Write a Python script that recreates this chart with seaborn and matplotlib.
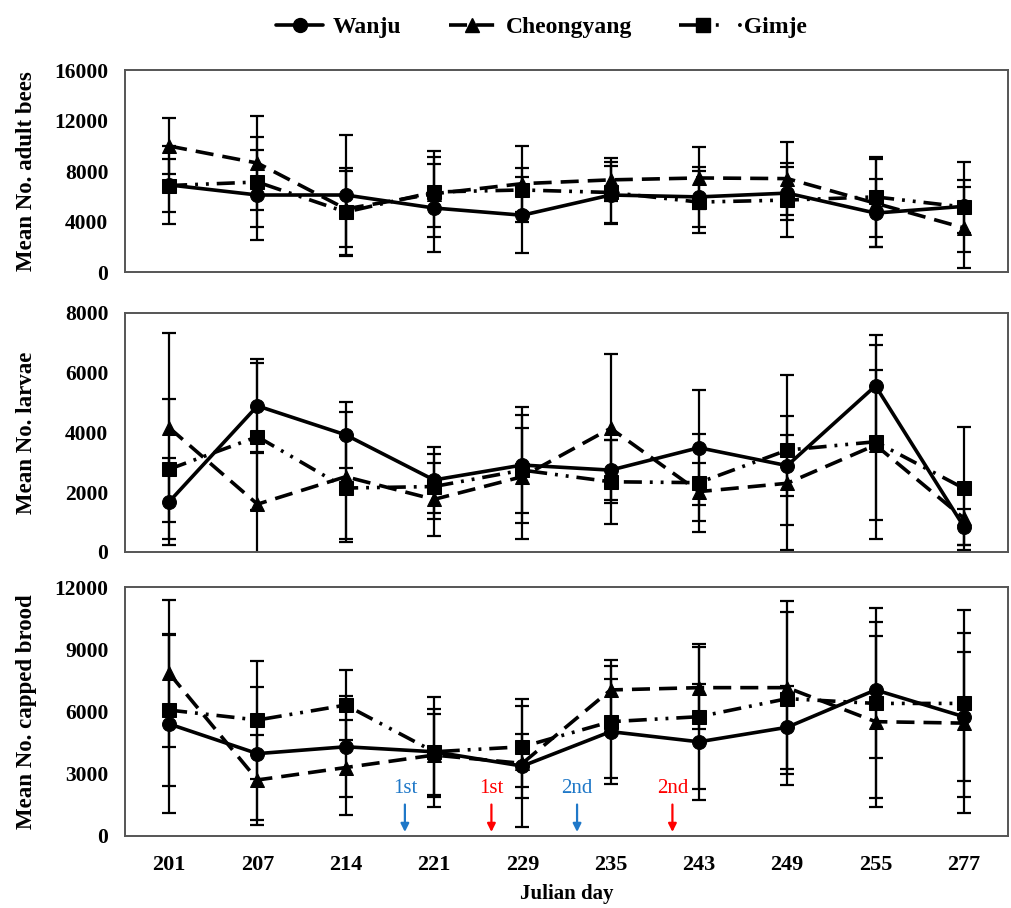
import matplotlib
matplotlib.use('Agg')
import matplotlib.pyplot as plt
import numpy as np
import pandas as pd
import seaborn as sns
from matplotlib.lines import Line2D

days = ['201', '207', '214', '221', '229', '235', '243', '249', '255', '277']
sites = ['Wanju', 'Cheongyang', 'Gimje']

# adult bees
adult_wanju = [6900, 6100, 6100, 5070, 4500, 6100, 5950, 6250, 4670, 5200]
adult_cheong = [9980, 8630, 5000, 6200, 7000, 7300, 7450, 7400, 5450, 3500]
adult_gimje = [6850, 7130, 4750, 6340, 6500, 6300, 5540, 5700, 5950, 5150]
adult_wanju_sd = [3100, 3600, 4750, 3500, 3000, 2300, 2400, 2100, 2700, 2100]
adult_cheong_sd = [2200, 3700, 3000, 3400, 3000, 1700, 2450, 2900, 3500, 3200]
adult_gimje_sd = [2100, 3570, 3500, 2800, 1750, 2400, 2450, 2900, 3150, 3550]

# larvae
larvae_wanju = [1680, 4890, 3920, 2410, 2910, 2740, 3490, 2890, 5560, 850]
larvae_cheong = [4160, 1600, 2520, 1760, 2520, 4140, 2020, 2300, 3580, 1130]
larvae_gimje = [2770, 3860, 2140, 2190, 2740, 2350, 2320, 3410, 3690, 2130]
larvae_wanju_sd = [1450, 1560, 1100, 1120, 1950, 1000, 1930, 1030, 1700, 600]
larvae_cheong_sd = [3170, 1700, 2180, 1230, 2080, 2500, 970, 2250, 2510, 900]
larvae_gimje_sd = [2350, 2460, 1700, 1100, 1420, 1400, 1640, 2510, 3240, 2060]

# capped brood
brood_wanju = [5400, 3970, 4300, 4060, 3370, 5030, 4540, 5240, 7040, 5750]
brood_cheong = [7840, 2700, 3300, 3900, 3500, 7040, 7150, 7150, 5510, 5440]
brood_gimje = [6070, 5590, 6310, 4060, 4300, 5510, 5750, 6620, 6390, 6390]
brood_wanju_sd = [4280, 3200, 2440, 2060, 1530, 2520, 2800, 2000, 3270, 3100]
brood_cheong_sd = [3530, 2170, 2290, 2000, 3080, 1460, 1970, 4160, 4130, 4350]
brood_gimje_sd = [3660, 2860, 1690, 2650, 1960, 2700, 3500, 4170, 4580, 4500]

# treatment arrows on the capped brood panel
event_pos = [2.67, 3.65, 4.62, 5.7]
event_labels = ['1st', '1st', '2nd', '2nd']
event_colors = ['#1f78c8', '#ff0000', '#1f78c8', '#ff0000']

sns.set_style('white')
plt.rcParams['font.family'] = ['Liberation Serif', 'DejaVu Serif']
plt.rcParams['font.weight'] = 'bold'
plt.rcParams['text.color'] = 'black'
plt.rcParams['axes.labelcolor'] = 'black'
plt.rcParams['xtick.color'] = 'black'
plt.rcParams['ytick.color'] = 'black'

markers = {'Wanju': 'o', 'Cheongyang': '^', 'Gimje': 's'}
dashes = {'Wanju': '', 'Cheongyang': (5, 2.5), 'Gimje': (5, 2.2, 0.8, 2.2, 0.8, 2.2)}
msize = {'Wanju': 10, 'Cheongyang': 10, 'Gimje': 9.5}

panels = [
    ('Mean No. adult bees', [adult_wanju, adult_cheong, adult_gimje],
     [adult_wanju_sd, adult_cheong_sd, adult_gimje_sd], 16000, 4000),
    ('Mean No. larvae', [larvae_wanju, larvae_cheong, larvae_gimje],
     [larvae_wanju_sd, larvae_cheong_sd, larvae_gimje_sd], 8000, 2000),
    ('Mean No. capped brood', [brood_wanju, brood_cheong, brood_gimje],
     [brood_wanju_sd, brood_cheong_sd, brood_gimje_sd], 12000, 3000),
]

fig = plt.figure(figsize=(10.12, 9.08), dpi=100)
boxes = [(0.1235, 0.7004, 0.8725, 0.2225),
         (0.1235, 0.3921, 0.8725, 0.2632),
         (0.1235, 0.0793, 0.8725, 0.2742)]

pos = np.arange(len(days))
for (ylabel, means, sds, ymax, step), box in zip(panels, boxes):
    ax = fig.add_axes(box)
    for site, m, s in zip(sites, means, sds):
        df = pd.DataFrame({'pos': pos, 'val': m})
        ax.errorbar(pos, m, yerr=s, fmt='none', ecolor='black',
                    elinewidth=1.6, capsize=5, capthick=1.6, zorder=2)
        sns.lineplot(data=df, x='pos', y='val', ax=ax, color='black',
                     marker=markers[site], markersize=msize[site],
                     markeredgecolor='black', linewidth=2.6,
                     dashes=False, zorder=3)
        if dashes[site]:
            ax.lines[-1].set_dashes(dashes[site])
    ax.set_xlim(-0.5, len(days) - 0.5)
    ax.set_ylim(0, ymax)
    ax.set_yticks(np.arange(0, ymax + 1, step))
    ax.set_yticklabels([str(v) for v in np.arange(0, ymax + 1, step)],
                       fontsize=15.5, fontweight='bold')
    ax.set_xticks(pos)
    ax.set_xlabel('')
    ax.set_ylabel(ylabel, fontsize=16.5, fontweight='bold')
    ax.tick_params(axis='y', length=0, pad=12)
    ax.tick_params(axis='x', length=0, pad=14)
    for sp in ax.spines.values():
        sp.set_color('#555555')
        sp.set_linewidth(1.4)
    if ymax == 12000:
        ax.set_xticklabels(days, fontsize=16, fontweight='bold')
        ax.set_xlabel('Julian day', fontsize=15, fontweight='bold', labelpad=6)
        for xp, lab, col in zip(event_pos, event_labels, event_colors):
            ax.text(xp, 1850, lab, color=col, ha='center', va='bottom',
                    fontsize=15, fontweight='normal')
            ax.annotate('', xy=(xp, 60), xytext=(xp, 1650),
                        arrowprops=dict(arrowstyle='-|>', color=col, lw=1.6,
                                        mutation_scale=12))
    else:
        ax.set_xticklabels([])
    ax.yaxis.set_label_coords(-0.1, 0.5)

handles = []
for site in sites:
    h = Line2D([], [], color='black', marker=markers[site], markersize=msize[site],
               linewidth=2.6)
    if dashes[site]:
        h.set_dashes(dashes[site])
    handles.append(h)
fig.legend(handles, ['Wanju', 'Cheongyang', '\u00b7Gimje'], loc='upper center',
           bbox_to_anchor=(0.535, 1.005), ncol=3, frameon=False,
           prop={'size': 17, 'weight': 'bold'}, handlelength=2.0,
           columnspacing=2.0, handletextpad=0.4)

fig.savefig('out.png', dpi=100)
